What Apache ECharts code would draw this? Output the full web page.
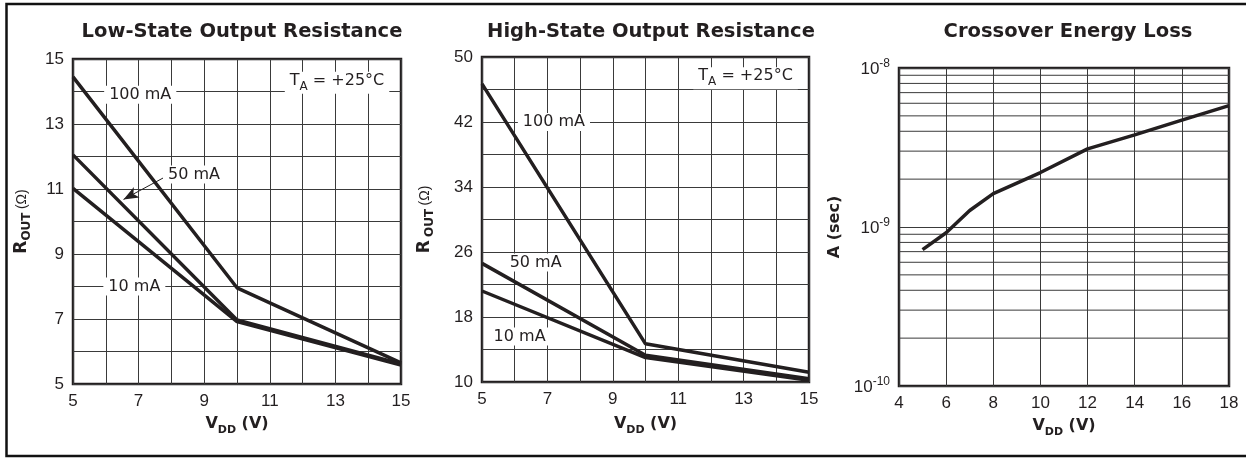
<!DOCTYPE html>
<html><head><meta charset="utf-8">
<script src="https://cdn.jsdelivr.net/npm/echarts@6/dist/echarts.min.js"></script>
<style>html,body{margin:0;padding:0;background:#fff}#c{width:1246px;height:458px}</style>
</head><body><div id="c"></div>
<script>
// ---- data ----
const vddLow = [5, 10, 15];
const lowR100 = [14.45, 7.96, 5.65];
const lowR50 = [12.05, 6.97, 5.62];
const lowR10 = [11.02, 6.92, 5.58];

const vddHigh = [5, 10, 15];
const highR100 = [46.7, 14.7, 11.2];
const highR50 = [24.6, 13.3, 10.4];
const highR10 = [21.2, 13.0, 10.2];

const vddCross = [5, 6, 7, 8, 10, 12, 14, 16, 18];
const crossA = [7.2e-10, 9.2e-10, 1.27e-9, 1.62e-9, 2.2e-9, 3.1e-9, 3.8e-9, 4.7e-9, 5.8e-9];

const xTicksR = [5, 7, 9, 11, 13, 15];
const yTicksLow = [5, 7, 9, 11, 13, 15];
const yTicksHigh = [10, 18, 26, 34, 42, 50];
const xTicksCross = [4, 6, 8, 10, 12, 14, 16, 18];
const xRangeCross = [4, 18];
const yMinorCross = [2e-10, 3e-10, 4e-10, 5e-10, 6e-10, 7e-10, 8e-10, 9e-10,
                     2e-9, 3e-9, 4e-9, 5e-9, 6e-9, 7e-9, 8e-9, 9e-9];

// ---- styles ----
const FR = "'Liberation Sans', Arial, sans-serif";
const FB = "'DejaVu Sans', sans-serif";
const INK = '#231f20';
const GRIDC = '#3a3a3a';

const zip = (xs, ys) => xs.map((x, i) => [x, ys[i]]);
const pick = list => v => list.some(t => Math.abs(t - v) < 1e-9) ? String(v) : '';

const lbl = {color: INK, fontFamily: FR, fontSize: 17, margin: 9};
const split = {show: true, lineStyle: {color: GRIDC, width: 1}};
const base = {axisLine: {show: false}, axisTick: {show: false}};

const vddName = '{v|V}{d|DD}{v| (V)}';
const vddRich = {
  v: {fontFamily: FB, fontWeight: 'bold', fontSize: 16, color: INK, lineHeight: 20, verticalAlign: 'top'},
  d: {fontFamily: FB, fontWeight: 'bold', fontSize: 11, color: INK, lineHeight: 11, verticalAlign: 'bottom'}
};
const routRich = {
  r: {fontFamily: FB, fontWeight: 'bold', fontSize: 17, color: INK, lineHeight: 20, verticalAlign: 'top'},
  s: {fontFamily: FB, fontWeight: 'bold', fontSize: 12, color: INK, lineHeight: 12, verticalAlign: 'bottom'},
  o: {fontFamily: FR, fontSize: 14, color: INK, lineHeight: 20, verticalAlign: 'top', padding: [2, 0, 0, 0]}
};
const annLabel = {
  show: true, position: 'inside', color: INK, fontFamily: FB, fontSize: 16,
  backgroundColor: '#fff', padding: [1, 5],
  rich: {
    m: {fontFamily: FB, fontSize: 16, color: INK, lineHeight: 20, verticalAlign: 'top'},
    a: {fontFamily: FB, fontSize: 12, color: INK, lineHeight: 12, verticalAlign: 'bottom'}
  }
};
const taText = '{m|T}{a|A}{m| = +25°C}';

function ann(coord, text) {
  return {coord: coord, symbol: 'rect', symbolSize: 0, label: Object.assign({}, annLabel, {formatter: text})};
}

const lineS = {type: 'line', symbol: 'none', z: 3, silent: true,
  lineStyle: {width: 3.5, color: INK}, animation: false};

// minor log grid lines drawn as thin line series through the log scale
const minorSeries = yMinorCross.map(v => ({
  type: 'line', symbol: 'none', silent: true, z: 1, animation: false,
  xAxisIndex: 2, yAxisIndex: 2,
  lineStyle: {width: 1, color: GRIDC},
  data: xRangeCross.map(x => [x, v])
}));

const option = {
  animation: false,
  backgroundColor: '#fff',
  title: [
    {text: 'Low-State Output Resistance', left: 237, top: 17, textAlign: 'center',
     textStyle: {fontFamily: FB, fontWeight: 'bold', fontSize: 19.5, color: INK}},
    {text: 'High-State Output Resistance', left: 646, top: 17, textAlign: 'center',
     textStyle: {fontFamily: FB, fontWeight: 'bold', fontSize: 19.5, color: INK}},
    {text: 'Crossover Energy Loss', left: 1063, top: 17, textAlign: 'center',
     textStyle: {fontFamily: FB, fontWeight: 'bold', fontSize: 19.5, color: INK}}
  ],
  graphic: [{type: 'rect', silent: true, shape: {x: 6.5, y: 4, width: 1260, height: 452},
    style: {fill: null, stroke: '#111', lineWidth: 2.5}}],
  grid: [
    {left: 73, top: 59, width: 328, height: 325, show: true, borderWidth: 2.5, borderColor: INK, containLabel: false},
    {left: 482, top: 57, width: 327, height: 325, show: true, borderWidth: 2.5, borderColor: INK, containLabel: false},
    {left: 899, top: 68, width: 330, height: 318, show: true, borderWidth: 2.5, borderColor: INK, containLabel: false}
  ],
  xAxis: [
    Object.assign({}, base, {gridIndex: 0, type: 'value', min: 5, max: 15, interval: 1,
      axisLabel: Object.assign({}, lbl, {formatter: pick(xTicksR)}), splitLine: split,
      name: vddName, nameLocation: 'middle', nameGap: 32, nameTextStyle: {rich: vddRich}}),
    Object.assign({}, base, {gridIndex: 1, type: 'value', min: 5, max: 15, interval: 1,
      axisLabel: Object.assign({}, lbl, {formatter: pick(xTicksR)}), splitLine: split,
      name: vddName, nameLocation: 'middle', nameGap: 34, nameTextStyle: {rich: vddRich}}),
    Object.assign({}, base, {gridIndex: 2, type: 'value', min: 4, max: 18, interval: 2,
      axisLabel: Object.assign({}, lbl, {formatter: pick(xTicksCross)}), splitLine: split,
      name: vddName, nameLocation: 'middle', nameGap: 32, nameTextStyle: {rich: vddRich}})
  ],
  yAxis: [
    Object.assign({}, base, {gridIndex: 0, type: 'value', min: 5, max: 15, interval: 1,
      axisLabel: Object.assign({}, lbl, {formatter: pick(yTicksLow)}), splitLine: split,
      name: '{r|R}{s|OUT} {o|(Ω)}', nameLocation: 'middle', nameGap: 40, nameRotate: 90,
      nameTextStyle: {rich: routRich}}),
    Object.assign({}, base, {gridIndex: 1, type: 'value', min: 10, max: 50, interval: 2,
      axisLabel: Object.assign({}, lbl, {formatter: pick(yTicksHigh)}),
      splitLine: {show: true, lineStyle: {color: [GRIDC, 'rgba(0,0,0,0)'], width: 1}},
      name: '{r|R} {s|OUT} {o|(Ω)}', nameLocation: 'middle', nameGap: 46, nameRotate: 90,
      nameTextStyle: {rich: routRich}}),
    Object.assign({}, base, {gridIndex: 2, type: 'log', logBase: 10, min: 1e-10, max: 1e-8,
      axisLabel: Object.assign({}, lbl, {
        formatter: v => '{b|10}{s|' + Math.round(Math.log10(v)) + '}',
        rich: {
          b: {fontFamily: FR, fontSize: 17, color: INK, lineHeight: 20, verticalAlign: 'bottom'},
          s: {fontFamily: FR, fontSize: 12, color: INK, lineHeight: 12, verticalAlign: 'top'}
        }}),
      splitLine: split,
      name: 'A (sec)', nameLocation: 'middle', nameGap: 56, nameRotate: 90,
      nameTextStyle: {fontFamily: FB, fontWeight: 'bold', fontSize: 16, color: INK}})
  ],
  series: [
    Object.assign({}, lineS, {name: '100 mA low', xAxisIndex: 0, yAxisIndex: 0, data: zip(vddLow, lowR100),
      markPoint: {silent: true, animation: false, data: [
        ann([7.05, 13.9], '100 mA'),
        ann([8.69, 11.45], '50 mA'),
        ann([6.87, 8.0], '10 mA'),
        ann([13.05, 14.27], taText)
      ]}}),
    Object.assign({}, lineS, {name: '50 mA low', xAxisIndex: 0, yAxisIndex: 0, data: zip(vddLow, lowR50),
      markLine: {silent: true, animation: false, symbol: ['none', 'arrow'], symbolSize: [9, 15],
        label: {show: false}, lineStyle: {color: INK, width: 1, type: 'solid'},
        data: [[{coord: [7.75, 11.34]}, {coord: [6.54, 10.68]}]]}}),
    Object.assign({}, lineS, {name: '10 mA low', xAxisIndex: 0, yAxisIndex: 0, data: zip(vddLow, lowR10)}),

    Object.assign({}, lineS, {name: '100 mA high', xAxisIndex: 1, yAxisIndex: 1, data: zip(vddHigh, highR100),
      markPoint: {silent: true, animation: false, data: [
        ann([7.2, 42.0], '100 mA'),
        ann([6.64, 24.7], '50 mA'),
        ann([6.15, 15.6], '10 mA'),
        ann([13.06, 47.4], taText)
      ]}}),
    Object.assign({}, lineS, {name: '50 mA high', xAxisIndex: 1, yAxisIndex: 1, data: zip(vddHigh, highR50)}),
    Object.assign({}, lineS, {name: '10 mA high', xAxisIndex: 1, yAxisIndex: 1, data: zip(vddHigh, highR10)}),

    Object.assign({}, lineS, {name: 'crossover', xAxisIndex: 2, yAxisIndex: 2, data: zip(vddCross, crossA)})
  ].concat(minorSeries)
};

const chart = echarts.init(document.getElementById('c'), null, {renderer: 'canvas'});
chart.setOption(option);
</script></body></html>
